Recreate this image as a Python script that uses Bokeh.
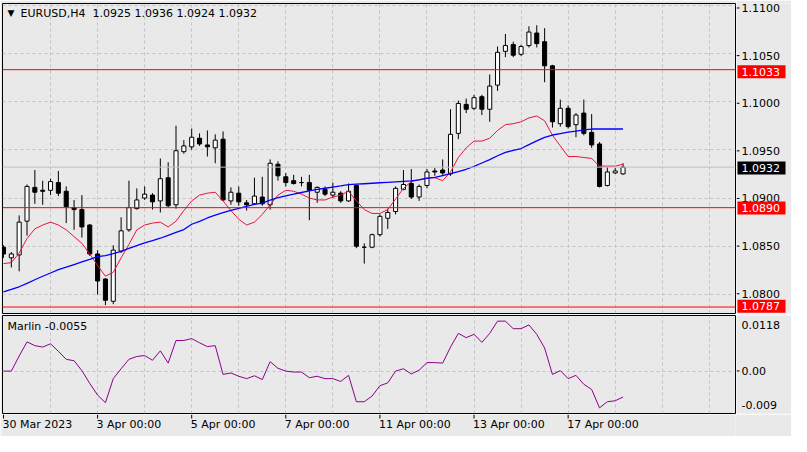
from bokeh.plotting import figure
from bokeh.models import Range1d, FixedTicker, Span, Label, ColumnDataSource
from bokeh.layouts import column, row
from bokeh.embed import file_html
from bokeh.resources import INLINE
from bokeh.core.properties import value

# ---------------- data ----------------
opens = [1.0849, 1.0838, 1.0841, 1.0876, 1.0911, 1.0908, 1.0908, 1.0916, 1.0907, 1.0890,
         1.0888, 1.0872, 1.0842, 1.0816, 1.0793, 1.0845, 1.0867, 1.0889, 1.0900, 1.0903,
         1.0897, 1.0921, 1.0893, 1.0948, 1.0953, 1.0962, 1.0955, 1.0952, 1.0961, 1.0897,
         1.0905, 1.0895, 1.0894, 1.0901, 1.0893, 1.0935, 1.0922, 1.0918, 1.0916, 1.0916,
         1.0906, 1.0909, 1.0903, 1.0905, 1.0897, 1.0913, 1.0849, 1.0849, 1.0862, 1.0879,
         1.0886, 1.0909, 1.0915, 1.0901, 1.0913, 1.0928, 1.0929, 1.0925, 1.0967, 1.0997,
         1.0993, 1.1005, 1.0992, 1.1017, 1.1052, 1.1059, 1.1049, 1.1058, 1.1071, 1.1062,
         1.1037, 1.0977, 1.0993, 1.0976, 1.0988, 1.0968, 1.0956, 1.0913, 1.0926, 1.0925]
highs = [1.0851, 1.0844, 1.0882, 1.0914, 1.0929, 1.0918, 1.0920, 1.0928, 1.0912, 1.0898,
         1.0903, 1.0873, 1.0846, 1.0817, 1.0851, 1.0880, 1.0918, 1.0910, 1.0912, 1.0905,
         1.0941, 1.0937, 1.0975, 1.0960, 1.0972, 1.0967, 1.0970, 1.0966, 1.0969, 1.0911,
         1.0912, 1.0898, 1.0921, 1.0922, 1.0940, 1.0938, 1.0926, 1.0924, 1.0922, 1.0924,
         1.0912, 1.0912, 1.0916, 1.0907, 1.0915, 1.0914, 1.0853, 1.0863, 1.0883, 1.0889,
         1.0912, 1.0929, 1.0930, 1.0914, 1.0930, 1.0931, 1.0940, 1.0992, 1.1001, 1.1003,
         1.1007, 1.1007, 1.1028, 1.1057, 1.1070, 1.1062, 1.1059, 1.1078, 1.1079, 1.1076,
         1.1038, 1.1002, 1.0996, 1.0988, 1.1002, 1.0987, 1.0958, 1.0932, 1.0931, 1.0936]
lows = [1.0838, 1.0828, 1.0824, 1.0861, 1.0894, 1.0893, 1.0903, 1.0902, 1.0874, 1.0867,
        1.0859, 1.0840, 1.0800, 1.0789, 1.0790, 1.0843, 1.0865, 1.0888, 1.0898, 1.0888,
        1.0885, 1.0890, 1.0889, 1.0946, 1.0950, 1.0954, 1.0943, 1.0936, 1.0897, 1.0893,
        1.0892, 1.0887, 1.0893, 1.0892, 1.0888, 1.0918, 1.0912, 1.0914, 1.0912, 1.0877,
        1.0895, 1.0902, 1.0900, 1.0895, 1.0896, 1.0848, 1.0832, 1.0848, 1.0860, 1.0868,
        1.0883, 1.0908, 1.0899, 1.0897, 1.0910, 1.0923, 1.0924, 1.0923, 1.0961, 1.0988,
        1.0991, 1.0986, 1.0979, 1.1011, 1.1046, 1.1046, 1.1047, 1.1056, 1.1056, 1.1020,
        1.0973, 1.0974, 1.0972, 1.0963, 1.0965, 1.0952, 1.0911, 1.0912, 1.0925, 1.0924]
closes = [1.0842, 1.0842, 1.0875, 1.0912, 1.0906, 1.0907, 1.0917, 1.0905, 1.0891, 1.0888,
          1.0870, 1.0842, 1.0814, 1.0794, 1.0846, 1.0866, 1.0890, 1.0898, 1.0904, 1.0896,
          1.0920, 1.0892, 1.0949, 1.0954, 1.0963, 1.0956, 1.0953, 1.0960, 1.0898, 1.0906,
          1.0896, 1.0893, 1.0902, 1.0894, 1.0936, 1.0923, 1.0916, 1.0915, 1.0916, 1.0908,
          1.0911, 1.0904, 1.0906, 1.0897, 1.0907, 1.0850, 1.0849, 1.0862, 1.0881, 1.0885,
          1.0910, 1.0914, 1.0901, 1.0912, 1.0927, 1.0927, 1.0926, 1.0966, 1.0998, 1.0992,
          1.1004, 1.0992, 1.1016, 1.1051, 1.1058, 1.1048, 1.1057, 1.1072, 1.1060, 1.1037,
          1.0979, 1.0993, 1.0974, 1.0986, 1.0967, 1.0955, 1.0912, 1.0927, 1.0928, 1.0932]
red_ma = [1.0832, 1.0833, 1.0843, 1.0858, 1.0868, 1.0872, 1.0875, 1.0872, 1.0867, 1.0860,
          1.0853, 1.0842, 1.0830, 1.0819, 1.0823, 1.0838, 1.0852, 1.0867, 1.0872, 1.0874,
          1.0875, 1.0870, 1.0876, 1.0887, 1.0897, 1.0903, 1.0905, 1.0906, 1.0897, 1.0887,
          1.0878, 1.0872, 1.0875, 1.0883, 1.0893, 1.0903, 1.0908, 1.0907, 1.0904, 1.0900,
          1.0898, 1.0898, 1.0901, 1.0903, 1.0907, 1.0897, 1.0888, 1.0884, 1.0884, 1.0888,
          1.0899, 1.0910, 1.0917, 1.0919, 1.0921, 1.0921, 1.0918, 1.0927, 1.0942, 1.0952,
          1.0959, 1.0959, 1.0962, 1.0970, 1.0976, 1.0977, 1.0979, 1.0983, 1.0985, 1.0980,
          1.0965, 1.0954, 1.0943, 1.0943, 1.0942, 1.0941, 1.0933, 1.0933, 1.0933, 1.0935]
blue_ma = [1.08027, 1.08053, 1.08080, 1.08115, 1.08153, 1.08189, 1.08223, 1.08257, 1.08283, 1.08310,
           1.08337, 1.08363, 1.08393, 1.08403, 1.08423, 1.08448, 1.08478, 1.08507, 1.08535, 1.08559,
           1.08583, 1.08613, 1.08643, 1.08673, 1.08728, 1.08758, 1.08793, 1.08823, 1.08848, 1.08873,
           1.08893, 1.08913, 1.08933, 1.08948, 1.08978, 1.09003, 1.09023, 1.09040, 1.09057, 1.09073,
           1.09090, 1.09101, 1.09113, 1.09125, 1.09138, 1.09143, 1.09148, 1.09153, 1.09158, 1.09163,
           1.09168, 1.09173, 1.09178, 1.09188, 1.09203, 1.09213, 1.09233, 1.09253, 1.09273, 1.09298,
           1.09328, 1.09363, 1.09398, 1.09438, 1.09473, 1.09493, 1.09513, 1.09553, 1.09593, 1.09628,
           1.09653, 1.09668, 1.09683, 1.09693, 1.09706, 1.09715, 1.09715, 1.09715, 1.09715, 1.09715]
marlin = [0.0000, 0.0000, 0.0032, 0.0062, 0.0054, 0.0051, 0.0058, 0.0042, 0.0025, 0.0022,
          0.0001, -0.0026, -0.0051, -0.0067, -0.0016, 0.0005, 0.0025, 0.0031, 0.0033, 0.0023,
          0.0043, 0.0017, 0.0065, 0.0065, 0.0069, 0.0060, 0.0052, 0.0054, -0.0007, -0.0004,
          -0.0011, -0.0016, -0.0010, -0.0018, 0.0020, 0.0006, 0.0000, -0.0002, -0.0002, -0.0014,
          -0.0011, -0.0016, -0.0016, -0.0022, -0.0009, -0.0065, -0.0065, -0.0053, -0.0031, -0.0025,
          0.0000, 0.0005, -0.0006, 0.0002, 0.0018, 0.0018, 0.0017, 0.0051, 0.0080, 0.0071,
          0.0078, 0.0061, 0.0080, 0.0106, 0.0106, 0.0090, 0.0090, 0.0098, 0.0078, 0.0049,
          -0.0007, 0.0001, -0.0016, -0.0009, -0.0028, -0.0039, -0.0078, -0.0065, -0.0063, -0.0055]

price_ticks = [1.0800, 1.0850, 1.0900, 1.0950, 1.1000, 1.1050, 1.1100]
levels = [1.1033, 1.0890, 1.0787]
bid = 1.0932
date_ticks = [0, 12, 24, 36, 48, 60, 72]
date_labels = ["30 Mar 2023", "3 Apr 00:00", "5 Apr 00:00", "7 Apr 00:00",
               "11 Apr 00:00", "13 Apr 00:00", "17 Apr 00:00"]
title_symbol = "EURUSD,H4"
title_ohlc = "1.0925 1.0936 1.0924 1.0932"
marlin_title = "Marlin -0.0055"
marlin_scale_values = [0.0118, 0.0, -0.009]
marlin_scale_labels = ["0.0118", "0.00", "-0.009"]
marlin_range = (-0.009, 0.0118)
price_range = (1.07803, 1.11016)
bars_visible = (-0.125, 93.34)

# ---------------- style / geometry ----------------
BG = "#e9e9e9"
GRID = "#c2c2c2"
FONT = "DejaVu Sans"
FS = "11px"
TOTAL_W = 791
LB = 2
MAIN_W = 736          # chart part incl. 1px right border
SIDE_W = TOTAL_W - MAIN_W
MAIN_H = 314
LOW_H = 100
DATE_H = 436 - MAIN_H - LOW_H
MAIN_TOP, MAIN_BOT = 3, 1
LOW_TOP, LOW_BOT = 1, 1
MAIN_FH = MAIN_H - MAIN_TOP - MAIN_BOT
LOW_FH = LOW_H - LOW_TOP - LOW_BOT

n = len(closes)
xs = list(range(n))
x_range = Range1d(*bars_visible)
grid_x = list(range(6, 94, 6))


def base_fig(w, h, xr, yr, **kw):
    f = figure(width=w, height=h, x_range=xr, y_range=yr,
               output_backend="svg", toolbar_location=None,
               x_axis_location=None, y_axis_location=None,
               background_fill_color=BG, border_fill_color=BG, **kw)
    return f


def style_grid(f, xt, yt):
    f.xgrid.ticker = FixedTicker(ticks=xt)
    f.ygrid.ticker = FixedTicker(ticks=yt)
    for g in (f.xgrid, f.ygrid):
        g.grid_line_color = GRID
        g.grid_line_dash = "3 3"
        g.grid_line_width = 1


# ---------------- main price panel ----------------
main = base_fig(MAIN_W, MAIN_H, x_range, Range1d(*price_range),
                min_border_left=LB, min_border_right=1,
                min_border_top=MAIN_TOP, min_border_bottom=MAIN_BOT,
                outline_line_color="black", outline_line_width=1)
style_grid(main, grid_x, price_ticks)

main.segment(x0=xs, y0=lows, x1=xs, y1=highs, line_color="black", line_width=1)
up = [i for i in xs if closes[i] > opens[i]]
dn = [i for i in xs if closes[i] <= opens[i]]
main.vbar(x=up, width=0.52, top=[closes[i] for i in up], bottom=[opens[i] for i in up],
          fill_color="white", line_color="black", line_width=1)
main.vbar(x=dn, width=0.52, top=[opens[i] for i in dn], bottom=[closes[i] for i in dn],
          fill_color="black", line_color="black", line_width=1)

main.line(xs, red_ma, line_color="#e8143c", line_width=1)
main.line(xs, blue_ma, line_color="#0000ff", line_width=1.3)

main.add_layout(Span(location=bid, dimension="width", line_color="#c0c0c0", line_width=1))
for lv in levels:
    main.add_layout(Span(location=lv, dimension="width", line_color="#ff0000", line_width=1))

main.add_layout(Label(x=5, y=MAIN_FH - 9.5, x_units="screen", y_units="screen",
                      text="\u25BC", text_font=FONT, text_font_size="9px",
                      text_color="black", text_align="left", text_baseline="middle"))
main.add_layout(Label(x=18, y=MAIN_FH - 9.5, x_units="screen", y_units="screen",
                      text=title_symbol, text_font=FONT, text_font_size=FS,
                      text_color="black", text_align="left", text_baseline="middle"))
main.add_layout(Label(x=90, y=MAIN_FH - 9.5, x_units="screen", y_units="screen",
                      text=title_ohlc, text_font=FONT, text_font_size=FS,
                      text_color="black", text_align="left", text_baseline="middle"))

# price scale (right side strip sharing the price scale)
ppu = (price_range[1] - price_range[0]) / MAIN_FH
side_yr = Range1d(price_range[0] - MAIN_BOT * ppu, price_range[1] + MAIN_TOP * ppu)
main_side = base_fig(SIDE_W, MAIN_H, Range1d(0, SIDE_W), side_yr,
                     min_border_left=0, min_border_right=0, min_border_top=0, min_border_bottom=0,
                     outline_line_color=None)
main_side.grid.visible = False
main_side.segment(x0=0, x1=3, y0=price_ticks, y1=price_ticks, line_color="black", line_width=1)
main_side.text(x=5, y=price_ticks, text=[f"{t:.4f}" for t in price_ticks],
               text_font=value(FONT), text_font_size=FS, text_color="black",
               text_align="left", text_baseline="middle")
tag_vals = levels + [bid]
tag_cols = ["#ff0000"] * len(levels) + ["#000000"]
main_side.rect(x=25, y=tag_vals, width=48, height=13, height_units="screen",
               fill_color=tag_cols, line_color=None)
main_side.text(x=5, y=tag_vals, text=[f"{t:.4f}" for t in tag_vals],
               text_font=value(FONT), text_font_size=FS, text_color="white",
               text_align="left", text_baseline="middle")

# ---------------- lower (Marlin) panel ----------------
lower = base_fig(MAIN_W, LOW_H, x_range, Range1d(*marlin_range),
                 min_border_left=LB, min_border_right=1,
                 min_border_top=LOW_TOP, min_border_bottom=LOW_BOT,
                 outline_line_color="black", outline_line_width=1)
style_grid(lower, grid_x, [0])
lower.line(xs, marlin, line_color="#8b008b", line_width=1)
lower.add_layout(Label(x=5, y=LOW_FH - 10.5, x_units="screen", y_units="screen",
                       text=marlin_title, text_font=FONT, text_font_size=FS,
                       text_color="black", text_align="left", text_baseline="middle"))

mpu = (marlin_range[1] - marlin_range[0]) / LOW_FH
low_side = base_fig(SIDE_W, LOW_H, Range1d(0, SIDE_W),
                    Range1d(marlin_range[0] - LOW_BOT * mpu, marlin_range[1] + LOW_TOP * mpu),
                    min_border_left=0, min_border_right=0, min_border_top=0, min_border_bottom=0,
                    outline_line_color=None)
low_side.grid.visible = False
low_side.segment(x0=0, x1=3, y0=0, y1=0, line_color="black", line_width=1)
low_side.text(x=5, y=marlin_scale_values, text=marlin_scale_labels, y_offset=[9, 0, -8],
              text_font=value(FONT), text_font_size=FS, text_color="black",
              text_align="left", text_baseline="middle")

# ---------------- date strip ----------------
dates = base_fig(TOTAL_W, DATE_H, x_range, Range1d(-DATE_H, 0),
                 min_border_left=LB, min_border_right=TOTAL_W - MAIN_W + 1,
                 min_border_top=0, min_border_bottom=0, outline_line_color=None)
dates.grid.visible = False
dates.segment(x0=date_ticks, x1=date_ticks, y0=0, y1=-4, line_color="black", line_width=1)
dates.text(x=date_ticks, y=-9.5, text=date_labels, x_offset=-1,
           text_font=value(FONT), text_font_size=FS, text_color="black",
           text_align="left", text_baseline="middle")

layout = column(row(main, main_side, spacing=0), row(lower, low_side, spacing=0), dates, spacing=0)
with open("out.html", "w") as f:
    f.write(file_html(layout, INLINE))
